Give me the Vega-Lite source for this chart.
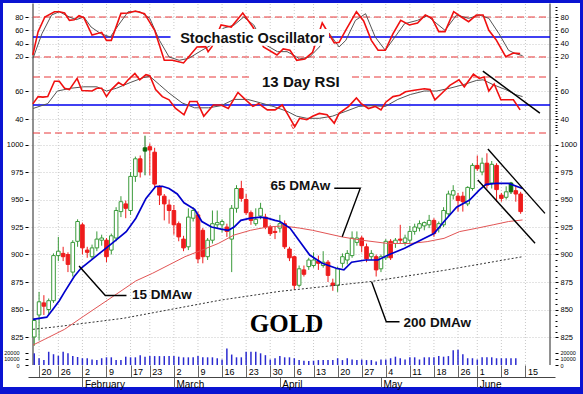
{
"$schema":"https://vega.github.io/schema/vega-lite/v6.json",
"autosize":{"type":"none"},
"width":577,"height":384,
"padding":{"left":3,"top":3,"right":3,"bottom":7},
"background":"#0a14d2",
"config":{
 "view":{"fill":"white","stroke":null},
 "axis":{"title":null,"domain":false,"grid":false,"labelFont":"Liberation Sans","labelColor":"#000","labelFontSize":7.5,"tickColor":"#000","tickSize":3,"labelPadding":2,"labelOverlap":false,"labelFlush":false,"gridColor":"#c8c8c8","gridDash":[1,2],"gridWidth":1}
},
"datasets":{
 "weeks":[{"i":0},{"i":4},{"i":9},{"i":14},{"i":19},{"i":23},{"i":28},{"i":33},{"i":38},{"i":43},{"i":48},{"i":53},{"i":57},{"i":62},{"i":67},{"i":72},{"i":77},{"i":82},{"i":87},{"i":91},{"i":96},{"i":101}],
 "candles":[
  {"i":-1,"o":825,"h":842,"l":817,"c":840,"t":"u","v":19000},
  {"i":0,"o":845,"h":866,"l":822,"c":857,"t":"u","v":11000},
  {"i":1,"o":856,"h":863,"l":845,"c":853,"t":"d","v":8000},
  {"i":2,"o":850,"h":860,"l":846,"c":858,"t":"u","v":21500},
  {"i":3,"o":858,"h":901,"l":856,"c":899,"t":"u","v":17500},
  {"i":4,"o":899,"h":916,"l":894,"c":903,"t":"u","v":15000},
  {"i":5,"o":901,"h":907,"l":894,"c":898,"t":"d","v":21500},
  {"i":6,"o":900,"h":902,"l":884,"c":891,"t":"d","v":19000},
  {"i":7,"o":884,"h":913,"l":880,"c":911,"t":"u","v":14500},
  {"i":8,"o":912,"h":932,"l":907,"c":930,"t":"u","v":13000},
  {"i":9,"o":927,"h":929,"l":900,"c":906,"t":"d","v":11000},
  {"i":10,"o":904,"h":907,"l":897,"c":902,"t":"d","v":11000},
  {"i":11,"o":898,"h":909,"l":895,"c":906,"t":"u","v":9000},
  {"i":12,"o":906,"h":921,"l":903,"c":914,"t":"u","v":8000},
  {"i":13,"o":913,"h":918,"l":908,"c":915,"t":"u","v":11000},
  {"i":14,"o":913,"h":915,"l":893,"c":898,"t":"d","v":12500},
  {"i":15,"o":904,"h":919,"l":900,"c":917,"t":"u","v":12500},
  {"i":16,"o":915,"h":943,"l":912,"c":940,"t":"u","v":8000},
  {"i":17,"o":939,"h":953,"l":934,"c":948,"t":"u","v":8000},
  {"i":18,"o":946,"h":949,"l":933,"c":942,"t":"d","v":13500},
  {"i":19,"o":940,"h":975,"l":936,"c":971,"t":"u","v":12500},
  {"i":20,"o":971,"h":989,"l":966,"c":987,"t":"u","v":12500},
  {"i":21,"o":987,"h":990,"l":970,"c":975,"t":"d","v":16000},
  {"i":22,"o":994,"h":1008,"l":972,"c":997,"t":"g","v":13500},
  {"i":23,"o":998,"h":1001,"l":972,"c":995,"t":"d","v":14500},
  {"i":24,"o":993,"h":997,"l":960,"c":964,"t":"d","v":14500},
  {"i":25,"o":962,"h":963,"l":945,"c":954,"t":"d","v":14500},
  {"i":26,"o":953,"h":955,"l":931,"c":946,"t":"d","v":14500},
  {"i":27,"o":945,"h":950,"l":928,"c":940,"t":"d","v":14500},
  {"i":28,"o":940,"h":945,"l":918,"c":927,"t":"d","v":14500},
  {"i":29,"o":928,"h":930,"l":912,"c":916,"t":"d","v":13500},
  {"i":30,"o":914,"h":917,"l":903,"c":906,"t":"d","v":12500},
  {"i":31,"o":907,"h":942,"l":904,"c":934,"t":"u","v":12500},
  {"i":32,"o":933,"h":943,"l":930,"c":940,"t":"u","v":12500},
  {"i":33,"o":936,"h":939,"l":892,"c":896,"t":"d","v":14500},
  {"i":34,"o":922,"h":924,"l":892,"c":898,"t":"d","v":12500},
  {"i":35,"o":898,"h":915,"l":895,"c":913,"t":"u","v":12500},
  {"i":36,"o":913,"h":940,"l":910,"c":928,"t":"u","v":12500},
  {"i":37,"o":927,"h":940,"l":924,"c":929,"t":"u","v":11000},
  {"i":38,"o":927,"h":932,"l":920,"c":930,"t":"u","v":9000},
  {"i":39,"o":925,"h":928,"l":916,"c":921,"t":"d","v":27000},
  {"i":40,"o":914,"h":945,"l":884,"c":942,"t":"u","v":17000},
  {"i":41,"o":942,"h":963,"l":938,"c":960,"t":"u","v":12500},
  {"i":42,"o":960,"h":967,"l":948,"c":951,"t":"d","v":12500},
  {"i":43,"o":950,"h":955,"l":936,"c":938,"t":"d","v":21500},
  {"i":44,"o":938,"h":940,"l":927,"c":931,"t":"d","v":21500},
  {"i":45,"o":928,"h":942,"l":926,"c":932,"t":"u","v":21500},
  {"i":46,"o":935,"h":947,"l":932,"c":942,"t":"u","v":19000},
  {"i":47,"o":934,"h":937,"l":923,"c":925,"t":"d","v":16000},
  {"i":48,"o":925,"h":927,"l":917,"c":919,"t":"d","v":9000},
  {"i":49,"o":921,"h":925,"l":914,"c":920,"t":"d","v":11000},
  {"i":50,"o":924,"h":936,"l":920,"c":928,"t":"u","v":14500},
  {"i":51,"o":928,"h":931,"l":905,"c":907,"t":"d","v":12500},
  {"i":52,"o":905,"h":907,"l":894,"c":897,"t":"d","v":12500},
  {"i":53,"o":898,"h":899,"l":868,"c":872,"t":"d","v":11000},
  {"i":54,"o":872,"h":890,"l":870,"c":887,"t":"u","v":8000},
  {"i":55,"o":886,"h":890,"l":880,"c":882,"t":"d","v":7000},
  {"i":56,"o":889,"h":897,"l":886,"c":895,"t":"u","v":6500},
  {"i":57,"o":890,"h":902,"l":888,"c":895,"t":"u","v":7000},
  {"i":58,"o":894,"h":899,"l":886,"c":892,"t":"d","v":8000},
  {"i":59,"o":890,"h":903,"l":888,"c":893,"t":"u","v":8000},
  {"i":60,"o":893,"h":895,"l":875,"c":881,"t":"d","v":8000},
  {"i":61,"o":874,"h":878,"l":867,"c":872,"t":"d","v":8000},
  {"i":62,"o":872,"h":889,"l":866,"c":887,"t":"u","v":11000},
  {"i":63,"o":892,"h":901,"l":888,"c":898,"t":"u","v":8000},
  {"i":64,"o":895,"h":904,"l":891,"c":901,"t":"u","v":11000},
  {"i":65,"o":899,"h":921,"l":897,"c":915,"t":"u","v":9000},
  {"i":66,"o":911,"h":921,"l":908,"c":915,"t":"u","v":8000},
  {"i":67,"o":915,"h":917,"l":902,"c":908,"t":"d","v":9000},
  {"i":68,"o":907,"h":910,"l":893,"c":896,"t":"d","v":8000},
  {"i":69,"o":898,"h":904,"l":895,"c":901,"t":"u","v":8000},
  {"i":70,"o":898,"h":900,"l":880,"c":886,"t":"d","v":5500},
  {"i":71,"o":887,"h":900,"l":884,"c":898,"t":"u","v":9000},
  {"i":72,"o":897,"h":914,"l":895,"c":912,"t":"u","v":9000},
  {"i":73,"o":912,"h":914,"l":895,"c":897,"t":"d","v":11000},
  {"i":74,"o":910,"h":915,"l":906,"c":913,"t":"u","v":13500},
  {"i":75,"o":914,"h":927,"l":910,"c":913,"t":"d","v":11000},
  {"i":76,"o":911,"h":918,"l":908,"c":915,"t":"u","v":9000},
  {"i":77,"o":913,"h":926,"l":910,"c":921,"t":"u","v":12500},
  {"i":78,"o":921,"h":928,"l":918,"c":925,"t":"u","v":12500},
  {"i":79,"o":924,"h":931,"l":921,"c":928,"t":"u","v":9000},
  {"i":80,"o":926,"h":930,"l":922,"c":929,"t":"u","v":12500},
  {"i":81,"o":927,"h":936,"l":924,"c":931,"t":"u","v":12500},
  {"i":82,"o":931,"h":933,"l":916,"c":919,"t":"d","v":12500},
  {"i":83,"o":924,"h":930,"l":920,"c":928,"t":"u","v":14500},
  {"i":84,"o":927,"h":943,"l":925,"c":940,"t":"u","v":13500},
  {"i":85,"o":937,"h":958,"l":935,"c":955,"t":"u","v":14500},
  {"i":86,"o":954,"h":963,"l":950,"c":958,"t":"u","v":24000},
  {"i":87,"o":953,"h":956,"l":939,"c":949,"t":"d","v":25000},
  {"i":88,"o":953,"h":957,"l":939,"c":948,"t":"d","v":17500},
  {"i":89,"o":946,"h":962,"l":944,"c":961,"t":"u","v":11000},
  {"i":90,"o":960,"h":983,"l":958,"c":981,"t":"u","v":11000},
  {"i":91,"o":981,"h":990,"l":976,"c":978,"t":"d","v":9000},
  {"i":92,"o":975,"h":988,"l":972,"c":983,"t":"u","v":12500},
  {"i":93,"o":983,"h":992,"l":960,"c":963,"t":"d","v":12500},
  {"i":94,"o":965,"h":985,"l":960,"c":982,"t":"u","v":12500},
  {"i":95,"o":981,"h":983,"l":948,"c":959,"t":"d","v":11000},
  {"i":96,"o":954,"h":956,"l":948,"c":951,"t":"d","v":11000},
  {"i":97,"o":952,"h":962,"l":950,"c":957,"t":"u","v":11000},
  {"i":98,"o":957,"h":966,"l":955,"c":965,"t":"g","v":11000},
  {"i":99,"o":958,"h":962,"l":948,"c":955,"t":"d","v":11000},
  {"i":100,"o":955,"h":957,"l":937,"c":939,"t":"d","v":null}
 ],
 "ma15":[{"i":-1.26,"p":841},{"i":1.6,"p":843},{"i":3,"p":851},{"i":4.2,"p":858},{"i":5.3,"p":866},{"i":7.3,"p":880},{"i":8.7,"p":887.5},{"i":11.4,"p":897},{"i":13.4,"p":904},{"i":15.4,"p":911},{"i":18.1,"p":920.7},{"i":20.1,"p":933},{"i":22.2,"p":951},{"i":24.2,"p":961.8},{"i":25.6,"p":962},{"i":27,"p":960},{"i":28.7,"p":955},{"i":30.1,"p":947},{"i":32.3,"p":941},{"i":33.8,"p":930},{"i":35.8,"p":925},{"i":37.8,"p":923},{"i":39.3,"p":922},{"i":40.5,"p":925},{"i":41.9,"p":931},{"i":43.9,"p":933},{"i":46,"p":934},{"i":47.4,"p":933},{"i":49,"p":931},{"i":50,"p":930},{"i":52.1,"p":924},{"i":54.1,"p":912},{"i":56.2,"p":899.5},{"i":58.8,"p":892},{"i":61.7,"p":887.5},{"i":63.3,"p":886},{"i":64.9,"p":893},{"i":67.8,"p":895},{"i":70.4,"p":895},{"i":72.5,"p":899.5},{"i":75.9,"p":905.6},{"i":79.2,"p":913},{"i":82,"p":919},{"i":84.1,"p":930},{"i":86.7,"p":943},{"i":89.4,"p":949.5},{"i":91.4,"p":958.6},{"i":92.8,"p":963.8},{"i":94.9,"p":964.7},{"i":97.5,"p":964.7},{"i":100.4,"p":960}],
 "ma65":[{"i":-1.26,"p":817.7},{"i":1.2,"p":823},{"i":5.3,"p":832},{"i":9.3,"p":844},{"i":15.4,"p":862},{"i":20.1,"p":876},{"i":23.6,"p":883},{"i":27,"p":890.6},{"i":30.3,"p":898},{"i":33.8,"p":904},{"i":37.2,"p":910},{"i":40.5,"p":917.7},{"i":43.9,"p":922},{"i":47.4,"p":925},{"i":50.7,"p":926},{"i":54.1,"p":924},{"i":56.8,"p":922},{"i":62.9,"p":916},{"i":67,"p":913},{"i":72.5,"p":910},{"i":77.1,"p":910},{"i":80.6,"p":911.7},{"i":84.1,"p":914.7},{"i":87.3,"p":920.8},{"i":90.8,"p":923.8},{"i":94.3,"p":927},{"i":97.5,"p":930},{"i":100.4,"p":931.4}],
 "ma200":[{"i":-1.26,"p":832},{"i":3.8,"p":834.4},{"i":17.5,"p":842},{"i":37.8,"p":858.6},{"i":50,"p":866.5},{"i":69,"p":875.5},{"i":84,"p":885.5},{"i":100.4,"p":898}],
 "stk":[{"i":-1.3,"v":23},{"i":-0.2,"v":58},{"i":1.2,"v":80},{"i":3.2,"v":88},{"i":4.2,"v":88},{"i":5.3,"v":86},{"i":6.3,"v":75},{"i":7.3,"v":76},{"i":8.3,"v":82},{"i":9.3,"v":79},{"i":11,"v":53},{"i":13,"v":57},{"i":14,"v":45},{"i":15,"v":45},{"i":17,"v":85.5},{"i":18.5,"v":86},{"i":20,"v":89},{"i":21.9,"v":85},{"i":24,"v":60},{"i":26,"v":15},{"i":27.7,"v":15},{"i":30,"v":11},{"i":32.8,"v":35},{"i":34.6,"v":35.5},{"i":35.1,"v":28},{"i":35.9,"v":35.5},{"i":37.8,"v":68},{"i":39.9,"v":65},{"i":42.3,"v":86},{"i":44.4,"v":65},{"i":46.6,"v":35},{"i":49.4,"v":23},{"i":50.7,"v":32},{"i":52.1,"v":30},{"i":53.5,"v":15},{"i":55.2,"v":17},{"i":56.8,"v":27},{"i":58.8,"v":71},{"i":61.3,"v":41},{"i":62.3,"v":42},{"i":63.9,"v":63},{"i":65.9,"v":88},{"i":67.4,"v":74},{"i":69,"v":45},{"i":70.4,"v":30},{"i":71.9,"v":30},{"i":73.5,"v":55},{"i":75.1,"v":75},{"i":76.9,"v":68},{"i":78.6,"v":71},{"i":80.2,"v":83},{"i":81.6,"v":78},{"i":83,"v":58},{"i":84.3,"v":58},{"i":86.1,"v":88},{"i":87.7,"v":80},{"i":89.2,"v":73},{"i":90.8,"v":83},{"i":92.2,"v":83},{"i":93.4,"v":60},{"i":94.9,"v":46},{"i":96.9,"v":20.5},{"i":98.5,"v":26},{"i":99.9,"v":25}],
 "std":[{"i":-1.26,"v":18},{"i":0.6,"v":55},{"i":2.6,"v":83},{"i":4.2,"v":88},{"i":6.3,"v":80},{"i":7.7,"v":76},{"i":9.3,"v":80},{"i":10.8,"v":65},{"i":12.8,"v":55},{"i":14.8,"v":50},{"i":16.5,"v":68},{"i":18.5,"v":88},{"i":20.9,"v":88},{"i":23,"v":78},{"i":25,"v":45},{"i":27,"v":20},{"i":29.1,"v":15},{"i":31.1,"v":18},{"i":33.8,"v":30},{"i":35.8,"v":38},{"i":37.5,"v":55},{"i":38.2,"v":63},{"i":40.5,"v":68},{"i":42.5,"v":80},{"i":44.6,"v":68},{"i":46.6,"v":40},{"i":49.5,"v":28},{"i":51.5,"v":28},{"i":53.5,"v":20},{"i":54.1,"v":17},{"i":56.2,"v":20},{"i":58.2,"v":35},{"i":60.2,"v":56},{"i":62.3,"v":35},{"i":63.7,"v":45},{"i":65.7,"v":75},{"i":67.8,"v":85},{"i":69.8,"v":50},{"i":71.9,"v":30},{"i":73.9,"v":50},{"i":75.9,"v":70},{"i":78.6,"v":75},{"i":80.6,"v":82},{"i":82.6,"v":70},{"i":84.3,"v":60},{"i":86.7,"v":83},{"i":89.2,"v":78},{"i":91.4,"v":83},{"i":93.4,"v":78},{"i":95.5,"v":55},{"i":97.5,"v":30},{"i":98.9,"v":25},{"i":100.4,"v":22}],
 "rsi":[{"i":-1.3,"v":50.8},{"i":-0.2,"v":56},{"i":0.8,"v":55.6},{"i":1.8,"v":56},{"i":3.2,"v":67},{"i":4.2,"v":67},{"i":5.3,"v":62},{"i":6.3,"v":61},{"i":7.9,"v":69},{"i":8.9,"v":60.4},{"i":11,"v":60},{"i":12,"v":62},{"i":13,"v":62},{"i":14,"v":56},{"i":15,"v":61},{"i":16.5,"v":66},{"i":17.5,"v":64},{"i":18.5,"v":68},{"i":19.9,"v":72.5},{"i":20.9,"v":68},{"i":22.2,"v":71.7},{"i":23,"v":71},{"i":24.2,"v":61},{"i":25.6,"v":56},{"i":27,"v":53.7},{"i":28.3,"v":47.7},{"i":30.1,"v":43},{"i":31.3,"v":52.5},{"i":32.8,"v":52.5},{"i":34.2,"v":42},{"i":36.2,"v":50},{"i":37.8,"v":50},{"i":39.3,"v":47.5},{"i":41.3,"v":59},{"i":42.9,"v":53.7},{"i":44.4,"v":49},{"i":45.6,"v":51},{"i":47.4,"v":46.5},{"i":49,"v":46.5},{"i":50.5,"v":50},{"i":51.7,"v":43},{"i":53.1,"v":34.5},{"i":54.1,"v":40.5},{"i":55.6,"v":39.5},{"i":56.8,"v":42},{"i":58.2,"v":44},{"i":59.8,"v":43},{"i":61.3,"v":37},{"i":62.3,"v":44},{"i":64.3,"v":49},{"i":65.9,"v":55},{"i":66.9,"v":51},{"i":68.4,"v":47.5},{"i":69.8,"v":49},{"i":71,"v":46.5},{"i":72,"v":52},{"i":73.5,"v":56},{"i":74.9,"v":57},{"i":76.1,"v":59.5},{"i":77.9,"v":60.5},{"i":80,"v":61.6},{"i":81.2,"v":61},{"i":82.2,"v":53.7},{"i":83.7,"v":58.6},{"i":85.3,"v":64},{"i":87.2,"v":68},{"i":88.3,"v":63},{"i":90.2,"v":72},{"i":91.4,"v":69},{"i":92.4,"v":70},{"i":93.4,"v":60},{"i":94.5,"v":65},{"i":95.9,"v":53.7},{"i":96.9,"v":53.7},{"i":98.5,"v":53.7},{"i":99.9,"v":46.5}],
 "rsig":[{"i":-1.26,"v":47.5},{"i":1.8,"v":51},{"i":3.8,"v":60},{"i":6.7,"v":62},{"i":9.3,"v":63},{"i":12,"v":63},{"i":14,"v":60},{"i":16.1,"v":62},{"i":18.9,"v":66},{"i":21.6,"v":69.5},{"i":23,"v":70.5},{"i":25,"v":64.5},{"i":27,"v":58.5},{"i":29.7,"v":51.5},{"i":32.3,"v":48},{"i":35.2,"v":48},{"i":37.8,"v":49.5},{"i":40.5,"v":54},{"i":43.3,"v":54},{"i":46,"v":51.5},{"i":48.6,"v":49},{"i":51.5,"v":45.5},{"i":53.5,"v":42},{"i":55.6,"v":40.5},{"i":58.2,"v":40.5},{"i":60.9,"v":42},{"i":63.7,"v":45.5},{"i":66.4,"v":49},{"i":69,"v":49.5},{"i":71.9,"v":49},{"i":74.5,"v":54},{"i":77.1,"v":57.5},{"i":80,"v":60},{"i":82.6,"v":60},{"i":85.3,"v":62},{"i":88.1,"v":64.5},{"i":90.8,"v":67.5},{"i":92.2,"v":68},{"i":94.3,"v":64.5},{"i":96.9,"v":61},{"i":98.9,"v":57.5},{"i":100.4,"v":56}],
 "ann":[{"g":"up","n":1,"i":93.2,"p":995.9},{"g":"up","n":2,"i":105.05,"p":937.4},{"g":"lo","n":1,"i":91.1,"p":967.7},{"g":"lo","n":2,"i":103.0,"p":910.2},{"g":"l65","n":1,"i":61.3,"p":960.2},{"g":"l65","n":2,"i":66.7,"p":960.2},{"g":"l65","n":3,"i":62.95,"p":916.2},{"g":"l15","n":1,"i":8.3,"p":889.5},{"g":"l15","n":2,"i":13.75,"p":862.7},{"g":"l15","n":3,"i":18.15,"p":862.7},{"g":"l200","n":1,"i":69.06,"p":875.3},{"g":"l200","n":2,"i":72.1,"p":838.9},{"g":"l200","n":3,"i":74.85,"p":838.9}],
 "labels":[{"i":48.05,"p":958.6,"s":"65 DMAw"},{"i":19.3,"p":859.3,"s":"15 DMAw"},{"i":75.7,"p":834.4,"s":"200 DMAw"}]
},
"resolve":{"scale":{"y":"independent"},"axis":{"x":"independent","y":"independent"}},
"layer":[
 {"data":{"name":"weeks"},"mark":{"type":"rule","color":"#c8c8c8","strokeDash":[1,2],"strokeWidth":1},
  "encoding":{
   "x":{"field":"i","type":"quantitative","scale":{"domain":[-1.26,106.1],"range":[25,552],"nice":false,"zero":false},"axis":{"orient":"bottom","offset":-22,"values":[0,4,9,14,19,23,28,33,38,43,48,53,57,62,67,72,77,82,87,91,96,101],"labelExpr":"['20','26','2','9','17','23','2','9','16','23','30','6','13','20','27','4','11','18','26','1','8','15'][indexof([0,4,9,14,19,23,28,33,38,43,48,53,57,62,67,72,77,82,87,91,96,101], datum.value)]","tickSize":12,"tickColor":"#666","labelPadding":-10,"labelBaseline":"top","labelAlign":"left","labelOffset":2,"labelFontSize":9}},
   "y":{"datum":0,"type":"quantitative","scale":{"domain":[0,1],"range":[362,0.5],"nice":false,"zero":false},"axis":null},
   "y2":{"datum":1}}},
 {"data":{"values":[{"i":-1.26},{"i":106.1}]},"mark":{"type":"rule","color":"#222","strokeWidth":1},
  "encoding":{
   "x":{"field":"i","type":"quantitative","scale":{"domain":[-1.26,106.1],"range":[25,552],"nice":false,"zero":false},"axis":{"orient":"bottom","offset":-10,"values":[9,28,50,71,91],"labelExpr":"['February','March','April','May','June'][indexof([9,28,50,71,91], datum.value)]","domain":true,"domainColor":"#444","tickSize":10,"tickColor":"#666","labelPadding":-8,"labelBaseline":"top","labelAlign":"left","labelOffset":2,"labelFontSize":10}},
   "y":{"datum":0,"type":"quantitative","scale":{"domain":[0,1],"range":[362,0.5],"nice":false,"zero":false},"axis":null},
   "y2":{"datum":1}}},
 {"data":{"values":[{"v":80},{"v":20}]},"mark":{"type":"rule","color":"#e8383a","strokeDash":[7,4],"strokeWidth":1},
  "encoding":{
   "x":{"datum":-1.26,"type":"quantitative","scale":{"domain":[-1.26,106.1],"range":[25,552],"nice":false,"zero":false},"axis":null},"x2":{"datum":106.1},
   "y":{"field":"v","type":"quantitative","scale":{"domain":[0,100],"range":[67.3,0.7],"nice":false,"zero":false},"axis":{"orient":"left","offset":-25,"values":[20,40,60,80],"grid":true}}}},
 {"data":{"values":[{"v":50}]},"mark":{"type":"rule","color":"#0000ee","strokeWidth":1.5},
  "encoding":{
   "x":{"datum":-1.26,"type":"quantitative","scale":{"domain":[-1.26,106.1],"range":[25,552],"nice":false,"zero":false},"axis":null},"x2":{"datum":106.1},
   "y":{"field":"v","type":"quantitative","scale":{"domain":[0,100],"range":[67.3,0.7],"nice":false,"zero":false},"axis":{"orient":"right","offset":-25,"values":[20,40,60,80]}}}},
 {"data":{"values":[{"v":50}]},"mark":{"type":"rule","opacity":0},
  "encoding":{
   "y":{"field":"v","type":"quantitative","scale":{"domain":[0,100],"range":[67.3,0.7],"nice":false,"zero":false},"axis":{"orient":"right","offset":-25,"values":[5,10,15,25,30,35,45,50,55,65,70,75,85,90,95],"labels":false,"tickSize":2}}}},
 {"data":{"name":"std"},"mark":{"type":"line","color":"#555555","strokeWidth":1},
  "encoding":{"x":{"field":"i","type":"quantitative","scale":{"domain":[-1.26,106.1],"range":[25,552],"nice":false,"zero":false},"axis":null},
   "y":{"field":"v","type":"quantitative","scale":{"domain":[0,100],"range":[67.3,0.7],"nice":false,"zero":false},"axis":null}}},
 {"data":{"name":"stk"},"mark":{"type":"line","color":"#f01010","strokeWidth":1.6},
  "encoding":{"x":{"field":"i","type":"quantitative","scale":{"domain":[-1.26,106.1],"range":[25,552],"nice":false,"zero":false},"axis":null},
   "y":{"field":"v","type":"quantitative","scale":{"domain":[0,100],"range":[67.3,0.7],"nice":false,"zero":false},"axis":null}}},
 {"data":{"values":[{"i":27.3,"i2":60.2,"v":37,"v2":62}]},"mark":{"type":"rect","color":"white"},
  "encoding":{"x":{"field":"i","type":"quantitative","scale":{"domain":[-1.26,106.1],"range":[25,552],"nice":false,"zero":false},"axis":null},"x2":{"field":"i2"},
   "y":{"field":"v","type":"quantitative","scale":{"domain":[0,100],"range":[67.3,0.7],"nice":false,"zero":false},"axis":null},"y2":{"field":"v2"}}},
 {"data":{"values":[{"i":29.3,"v":40.5,"s":"Stochastic Oscillator"}]},"mark":{"type":"text","font":"Liberation Sans","fontWeight":"bold","fontSize":14.5,"align":"left","baseline":"alphabetic","color":"#111"},
  "encoding":{"x":{"field":"i","type":"quantitative","scale":{"domain":[-1.26,106.1],"range":[25,552],"nice":false,"zero":false},"axis":null},
   "y":{"field":"v","type":"quantitative","scale":{"domain":[0,100],"range":[67.3,0.7],"nice":false,"zero":false},"axis":null},"text":{"field":"s"}}},
 {"data":{"values":[{"v":70},{"v":30}]},"mark":{"type":"rule","color":"#e8383a","strokeDash":[7,4],"strokeWidth":1},
  "encoding":{
   "x":{"datum":-1.26,"type":"quantitative","scale":{"domain":[-1.26,106.1],"range":[25,552],"nice":false,"zero":false},"axis":null},"x2":{"datum":106.1},
   "y":{"field":"v","type":"quantitative","scale":{"domain":[30,70],"range":[130,74],"nice":false,"zero":false},"axis":{"orient":"left","offset":-25,"values":[40,60],"grid":true}}}},
 {"data":{"values":[{"v":50}]},"mark":{"type":"rule","color":"#0000ee","strokeWidth":1.5},
  "encoding":{
   "x":{"datum":-1.26,"type":"quantitative","scale":{"domain":[-1.26,106.1],"range":[25,552],"nice":false,"zero":false},"axis":null},"x2":{"datum":106.1},
   "y":{"field":"v","type":"quantitative","scale":{"domain":[30,70],"range":[130,74],"nice":false,"zero":false},"axis":{"orient":"right","offset":-25,"values":[40,60]}}}},
 {"data":{"values":[{"v":50}]},"mark":{"type":"rule","opacity":0},
  "encoding":{
   "y":{"field":"v","type":"quantitative","scale":{"domain":[30,70],"range":[130,74],"nice":false,"zero":false},"axis":{"orient":"right","offset":-25,"values":[28,30,32,34,36,38,42,44,46,48,50,52,54,56,58,62,64,66,68,70,72,74],"labels":false,"tickSize":2}}}},
 {"data":{"name":"rsig"},"mark":{"type":"line","color":"#555555","strokeWidth":1},
  "encoding":{"x":{"field":"i","type":"quantitative","scale":{"domain":[-1.26,106.1],"range":[25,552],"nice":false,"zero":false},"axis":null},
   "y":{"field":"v","type":"quantitative","scale":{"domain":[30,70],"range":[130,74],"nice":false,"zero":false},"axis":null}}},
 {"data":{"name":"rsi"},"mark":{"type":"line","color":"#f01010","strokeWidth":1.6},
  "encoding":{"x":{"field":"i","type":"quantitative","scale":{"domain":[-1.26,106.1],"range":[25,552],"nice":false,"zero":false},"axis":null},
   "y":{"field":"v","type":"quantitative","scale":{"domain":[30,70],"range":[130,74],"nice":false,"zero":false},"axis":null}}},
 {"data":{"values":[{"i":92.16,"v":74.2},{"i":104.0,"v":44.2}]},"mark":{"type":"line","color":"#000","strokeWidth":1.5},
  "encoding":{"x":{"field":"i","type":"quantitative","scale":{"domain":[-1.26,106.1],"range":[25,552],"nice":false,"zero":false},"axis":null},
   "y":{"field":"v","type":"quantitative","scale":{"domain":[30,70],"range":[130,74],"nice":false,"zero":false},"axis":null}}},
 {"data":{"values":[{"i":44.4,"i2":64.7,"v":60.3,"v2":73.2}]},"mark":{"type":"rect","color":"white"},
  "encoding":{"x":{"field":"i","type":"quantitative","scale":{"domain":[-1.26,106.1],"range":[25,552],"nice":false,"zero":false},"axis":null},"x2":{"field":"i2"},
   "y":{"field":"v","type":"quantitative","scale":{"domain":[30,70],"range":[130,74],"nice":false,"zero":false},"axis":null},"y2":{"field":"v2"}}},
 {"data":{"values":[{"i":46.3,"v":62.9,"s":"13 Day RSI"}]},"mark":{"type":"text","font":"Liberation Sans","fontWeight":"bold","fontSize":15,"align":"left","baseline":"alphabetic","color":"#111"},
  "encoding":{"x":{"field":"i","type":"quantitative","scale":{"domain":[-1.26,106.1],"range":[25,552],"nice":false,"zero":false},"axis":null},
   "y":{"field":"v","type":"quantitative","scale":{"domain":[30,70],"range":[130,74],"nice":false,"zero":false},"axis":null},"text":{"field":"s"}}},
 {"data":{"values":[{"i":52.8,"v":34.3}]},"mark":{"type":"point","shape":"triangle-down","filled":false,"color":"#ee1111","size":22,"strokeWidth":1},
  "encoding":{"x":{"field":"i","type":"quantitative","scale":{"domain":[-1.26,106.1],"range":[25,552],"nice":false,"zero":false},"axis":null},
   "y":{"field":"v","type":"quantitative","scale":{"domain":[30,70],"range":[130,74],"nice":false,"zero":false},"axis":null}}},
 {"data":{"name":"candles"},"mark":{"type":"rule","strokeWidth":1},
  "encoding":{"x":{"field":"i","type":"quantitative","scale":{"domain":[-1.26,106.1],"range":[25,552],"nice":false,"zero":false},"axis":null},
   "y":{"field":"l","type":"quantitative","scale":{"domain":[825,1000],"range":[334,141.5],"nice":false,"zero":false},"axis":{"orient":"left","offset":-25,"values":[825,850,875,900,925,950,975,1000],"format":"d","grid":true}},
   "y2":{"field":"h"},
   "stroke":{"field":"t","type":"nominal","scale":{"domain":["u","d","g"],"range":["#3a9a3a","#ee1c1c","#0b6b0b"]},"legend":null}}},
 {"data":{"name":"candles"},"mark":{"type":"bar","size":3.6,"strokeWidth":1},
  "encoding":{"x":{"field":"i","type":"quantitative","scale":{"domain":[-1.26,106.1],"range":[25,552],"nice":false,"zero":false},"axis":null},
   "y":{"field":"o","type":"quantitative","scale":{"domain":[825,1000],"range":[334,141.5],"nice":false,"zero":false},"axis":{"orient":"right","offset":-25,"values":[825,850,875,900,925,950,975,1000],"format":"d"}},
   "y2":{"field":"c"},
   "fill":{"field":"t","type":"nominal","scale":{"domain":["u","d","g"],"range":["#ffffff","#ee1c1c","#0b6b0b"]},"legend":null},
   "stroke":{"field":"t","type":"nominal","scale":{"domain":["u","d","g"],"range":["#3a9a3a","#ee1c1c","#0b6b0b"]},"legend":null}}},
 {"data":{"values":[{"v":900}]},"mark":{"type":"rule","opacity":0},
  "encoding":{
   "y":{"field":"v","type":"quantitative","scale":{"domain":[825,1000],"range":[334,141.5],"nice":false,"zero":false},"axis":{"orient":"right","offset":-25,"values":[820,830,835,840,845,855,860,865,870,880,885,890,895,905,910,915,920,930,935,940,945,955,960,965,970,980,985,990,995,1005],"labels":false,"tickSize":2}}}},
 {"data":{"name":"ma200"},"mark":{"type":"line","color":"#333333","strokeWidth":1,"strokeDash":[2,2]},
  "encoding":{"x":{"field":"i","type":"quantitative","scale":{"domain":[-1.26,106.1],"range":[25,552],"nice":false,"zero":false},"axis":null},
   "y":{"field":"p","type":"quantitative","scale":{"domain":[825,1000],"range":[334,141.5],"nice":false,"zero":false},"axis":null}}},
 {"data":{"name":"ma65"},"mark":{"type":"line","color":"#e25555","strokeWidth":1},
  "encoding":{"x":{"field":"i","type":"quantitative","scale":{"domain":[-1.26,106.1],"range":[25,552],"nice":false,"zero":false},"axis":null},
   "y":{"field":"p","type":"quantitative","scale":{"domain":[825,1000],"range":[334,141.5],"nice":false,"zero":false},"axis":null}}},
 {"data":{"name":"ma15"},"mark":{"type":"line","color":"#0000cc","strokeWidth":1.7},
  "encoding":{"x":{"field":"i","type":"quantitative","scale":{"domain":[-1.26,106.1],"range":[25,552],"nice":false,"zero":false},"axis":null},
   "y":{"field":"p","type":"quantitative","scale":{"domain":[825,1000],"range":[334,141.5],"nice":false,"zero":false},"axis":null}}},
 {"data":{"name":"ann"},"mark":{"type":"line","color":"#000","strokeWidth":1.4},
  "encoding":{"x":{"field":"i","type":"quantitative","scale":{"domain":[-1.26,106.1],"range":[25,552],"nice":false,"zero":false},"axis":null},
   "y":{"field":"p","type":"quantitative","scale":{"domain":[825,1000],"range":[334,141.5],"nice":false,"zero":false},"axis":null},
   "detail":{"field":"g"},"order":{"field":"n","type":"quantitative"}}},
 {"data":{"name":"labels"},"mark":{"type":"text","font":"Liberation Sans","fontWeight":"bold","fontSize":13.5,"align":"left","baseline":"alphabetic","color":"#111"},
  "encoding":{"x":{"field":"i","type":"quantitative","scale":{"domain":[-1.26,106.1],"range":[25,552],"nice":false,"zero":false},"axis":null},
   "y":{"field":"p","type":"quantitative","scale":{"domain":[825,1000],"range":[334,141.5],"nice":false,"zero":false},"axis":null},"text":{"field":"s"}}},
 {"data":{"values":[{"i":51.4,"p":829.8,"s":"GOLD"}]},"mark":{"type":"text","font":"Liberation Serif","fontWeight":"bold","fontSize":25,"align":"center","baseline":"alphabetic","color":"#000"},
  "encoding":{"x":{"field":"i","type":"quantitative","scale":{"domain":[-1.26,106.1],"range":[25,552],"nice":false,"zero":false},"axis":null},
   "y":{"field":"p","type":"quantitative","scale":{"domain":[825,1000],"range":[334,141.5],"nice":false,"zero":false},"axis":null},"text":{"field":"s"}}},
 {"data":{"name":"candles"},"mark":{"type":"rule","color":"#2a2ad0","strokeWidth":1.5},
  "encoding":{"x":{"field":"i","type":"quantitative","scale":{"domain":[-1.26,106.1],"range":[25,552],"nice":false,"zero":false},"axis":null},
   "y":{"field":"v","type":"quantitative","scale":{"domain":[0,20000],"range":[362,349.7],"nice":false,"zero":false},"axis":{"orient":"left","offset":-25,"values":[0,10000,20000],"format":"d","labelFontSize":5.5,"labelPadding":6}},
   "y2":{"datum":0}}},
 {"data":{"name":"candles"},"mark":{"type":"rule","opacity":0},
  "encoding":{"x":{"field":"i","type":"quantitative","scale":{"domain":[-1.26,106.1],"range":[25,552],"nice":false,"zero":false},"axis":null},
   "y":{"field":"v","type":"quantitative","scale":{"domain":[0,20000],"range":[362,349.7],"nice":false,"zero":false},"axis":{"orient":"right","offset":-25,"values":[0,10000,20000],"format":"d","labelFontSize":5.5}},
   "y2":{"datum":0}}}
]
}
